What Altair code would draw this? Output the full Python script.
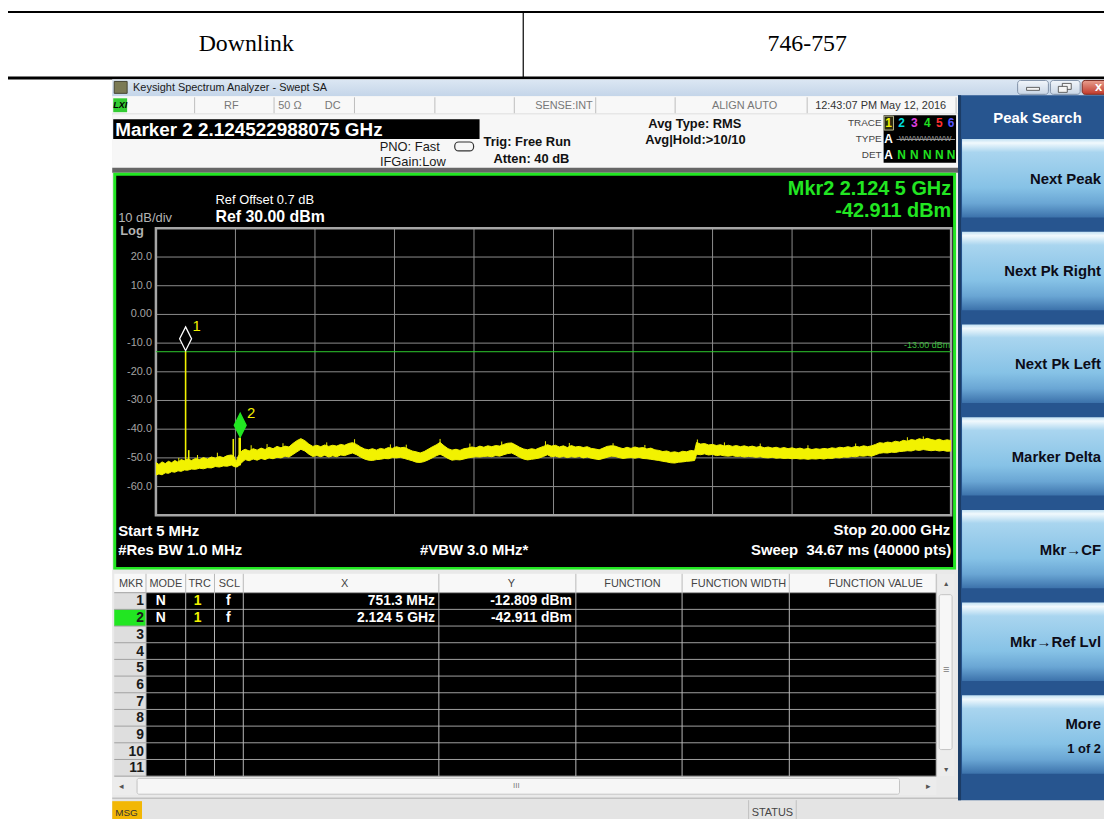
import altair as alt
import pandas as pd

# ---------------- data ----------------
CELL_LEFT = "Downlink"
CELL_RIGHT = "746-757"

F_START_GHZ = 0.005
F_STOP_GHZ = 20.0
REF_LEVEL = 30.0
DB_PER_DIV = 10.0
N_DIV = 10
DISPLAY_LINE_DBM = -13.0

YTICK_VALUES = [20, 10, 0, -10, -20, -30, -40, -50, -60]
YTICK_LABELS = ["20.0", "10.0", "0.00", "-10.0", "-20.0", "-30.0", "-40.0", "-50.0", "-60.0"]

TRACE_F = [0.005, 0.08, 0.16, 0.24, 0.32, 0.40, 0.48, 0.56, 0.64, 0.72, 0.80, 0.90, 1.00, 1.10, 1.20,
           1.30, 1.40, 1.50, 1.60, 1.70, 1.80, 1.90, 1.97, 2.02, 2.07, 2.17, 2.25, 2.35, 2.45, 2.55,
           2.65, 2.75, 2.85, 2.95, 3.05, 3.15, 3.25, 3.35, 3.45, 3.55, 3.65, 3.75, 3.85, 3.95, 4.05,
           4.15, 4.25, 4.35, 4.45, 4.55, 4.65, 4.75, 4.85, 4.95, 5.05, 5.15, 5.25, 5.35, 5.45, 5.55,
           5.65, 5.75, 5.85, 5.95, 6.05, 6.15, 6.25, 6.35, 6.45, 6.55, 6.65, 6.75, 6.85, 6.95, 7.05,
           7.15, 7.25, 7.35, 7.45, 7.55, 7.65, 7.75, 7.85, 7.95, 8.05, 8.15, 8.25, 8.35, 8.45, 8.55,
           8.65, 8.75, 8.85, 8.95, 9.05, 9.15, 9.25, 9.35, 9.45, 9.55, 9.65, 9.75, 9.85, 9.95, 10.05,
           10.15, 10.25, 10.35, 10.45, 10.55, 10.65, 10.75, 10.85, 10.95, 11.05, 11.15, 11.25, 11.35,
           11.45, 11.55, 11.65, 11.75, 11.85, 11.95, 12.05, 12.15, 12.25, 12.35, 12.45, 12.55, 12.65,
           12.75, 12.85, 12.95, 13.05, 13.15, 13.25, 13.35, 13.45, 13.55, 13.60, 13.70, 13.80, 13.90,
           14.00, 14.10, 14.20, 14.30, 14.40, 14.50, 14.60, 14.70, 14.80, 14.90, 15.00, 15.10, 15.20,
           15.30, 15.40, 15.50, 15.60, 15.70, 15.80, 15.90, 16.00, 16.10, 16.20, 16.30, 16.40, 16.50,
           16.60, 16.70, 16.80, 16.90, 17.00, 17.10, 17.20, 17.30, 17.40, 17.50, 17.60, 17.70, 17.80,
           17.90, 18.00, 18.10, 18.20, 18.30, 18.40, 18.50, 18.60, 18.70, 18.80, 18.90, 19.00, 19.10,
           19.20, 19.30, 19.40, 19.50, 19.60, 19.70, 19.80, 19.90, 20.00]
TRACE_HI = [-51.6, -52.3, -51.4, -52.0, -51.2, -51.7, -50.9, -51.5, -50.6, -51.0, -50.4, -50.9, -50.2, -50.6, -49.9,
            -50.4, -49.7, -50.1, -49.5, -49.9, -49.2, -49.0, -49.5, -51.5, -49.5, -47.5, -47.0, -47.6, -46.8, -47.3,
            -46.6, -47.1, -46.3, -46.8, -46.0, -46.5, -45.9, -46.2, -45.0, -44.0, -43.3, -44.0, -45.2, -46.0, -45.6,
            -46.1, -45.5, -46.0, -45.6, -45.9, -45.3, -45.6, -45.0, -44.7, -45.3, -46.2, -46.9, -47.2, -46.8, -47.3,
            -46.7, -47.0, -46.4, -46.7, -46.1, -46.5, -46.3, -47.0, -47.6, -47.9, -48.3, -47.8, -47.0, -46.2, -45.5,
            -44.6, -45.8, -46.8, -47.3, -47.0, -47.4, -46.8, -46.6, -46.2, -46.5, -45.9, -46.3, -45.8, -46.1, -45.7,
            -45.9, -45.3, -44.9, -44.8, -45.5, -46.3, -46.9, -47.2, -46.8, -47.1, -46.5, -46.0, -45.4, -45.9, -45.6,
            -46.2, -45.8, -46.4, -45.7, -46.2, -46.0, -46.4, -46.1, -46.7, -46.9, -47.2, -46.6, -46.0,
            -45.8, -45.9, -46.4, -46.8, -46.3, -46.7, -46.2, -46.6, -46.4, -46.9, -46.6, -47.2, -47.4,
            -47.8, -47.6, -48.1, -47.9, -48.2, -47.7, -47.9, -47.4, -47.6, -44.6, -45.2, -45.0, -45.5,
            -45.3, -45.7, -45.4, -45.9, -45.6, -46.0, -45.7, -46.1, -45.8, -46.2, -45.9, -46.3, -46.0,
            -46.5, -46.2, -46.6, -46.3, -46.7, -46.4, -46.8, -46.5, -46.9, -46.6, -47.0, -46.7, -47.1,
            -46.8, -47.0, -46.7, -46.9, -46.5, -46.7, -46.3, -46.5, -46.1, -46.4, -46.0, -46.2, -45.8,
            -46.1, -45.8, -45.3, -44.7, -44.9, -44.5, -44.7, -44.2, -44.5, -43.9, -44.2, -43.6, -43.9,
            -43.3, -43.7, -43.2, -43.6, -43.9, -43.5, -44.0, -43.7, -44.0]
TRACE_LO = [-56.0, -55.6, -55.9, -55.2, -55.4, -54.8, -55.0, -54.5, -54.7, -54.2, -54.3, -53.9, -54.0, -53.6, -53.8,
            -53.4, -53.5, -53.0, -53.2, -52.8, -52.9, -52.5, -53.0, -53.2, -53.0, -51.5, -50.6, -51.0, -50.4, -50.8,
            -50.2, -50.6, -50.0, -50.3, -49.8, -50.0, -49.4, -49.7, -48.8, -47.9, -47.0, -47.6, -48.7, -49.5, -49.2,
            -49.6, -49.1, -49.7, -49.3, -49.6, -49.0, -49.2, -48.7, -48.3, -48.9, -49.7, -50.4, -50.8, -50.9, -50.6,
            -50.5, -50.2, -50.3, -49.9, -50.0, -49.8, -50.2, -50.6, -51.0, -51.5, -51.6, -51.3, -50.7, -50.0, -49.3,
            -48.7, -49.4, -50.2, -50.8, -50.6, -50.7, -50.4, -50.0, -49.8, -49.6, -49.7, -49.5, -49.4, -49.6, -49.2,
            -49.4, -48.9, -48.5, -48.3, -49.0, -49.8, -50.4, -50.7, -50.5, -50.3, -50.0, -49.5, -48.9, -49.6, -49.4,
            -49.8, -49.5, -49.9, -49.6, -49.8, -49.5, -50.0, -49.7, -50.1, -50.4, -50.6, -50.2, -49.8,
            -49.4, -49.5, -49.9, -50.2, -50.0, -49.9, -50.1, -49.8, -50.2, -50.3, -50.5, -50.7, -50.9,
            -51.2, -51.4, -51.7, -51.8, -51.5, -51.4, -51.2, -51.1, -50.9, -48.7, -48.9, -48.6, -49.0,
            -48.8, -49.2, -49.0, -49.3, -49.4, -49.2, -49.5, -49.4, -49.7, -49.5, -49.6, -49.8, -49.6,
            -49.9, -50.0, -49.8, -50.1, -50.0, -50.2, -50.1, -50.3, -50.2, -50.4, -50.3, -50.5, -50.3,
            -50.4, -50.2, -50.4, -50.1, -50.2, -49.9, -50.0, -49.7, -49.8, -49.5, -49.6, -49.3, -49.4,
            -49.2, -49.4, -48.9, -48.4, -48.2, -48.3, -48.0, -48.1, -47.8, -47.7, -47.5, -47.6, -47.2,
            -47.4, -47.1, -47.3, -47.5, -47.3, -47.6, -47.4, -47.7, -47.6]

# narrow signals standing above the noise floor
SPIKE_F = [0.7513, 0.83, 1.95, 2.10, 2.1245]
SPIKE_HI = [-12.809, -47.3, -43.4, -43.0, -42.911]
SPIKE_LO = [-54.2, -53.8, -52.6, -52.6, -52.6]

# small noise peaks sticking out of the band
NOISE_F = [0.58, 1.05, 1.55, 2.4, 2.8, 3.2, 4.3, 5.0, 5.9, 6.3, 7.15, 7.9, 8.7, 9.8, 10.4, 11.5,
           12.3, 13.62, 14.3, 15.2, 16.4, 17.6, 18.9, 19.3]
NOISE_TOP = [-50.0, -49.0, -48.2, -45.6, -45.2, -44.9, -44.6, -43.5, -45.3, -45.4, -43.4, -45.0,
             -44.3, -44.2, -44.8, -44.9, -45.5, -43.6, -44.6, -45.0, -45.6, -45.0, -42.8, -42.5]

MKR_NUM = [1, 2]
MKR_F = [0.7513, 2.1245]
MKR_DB = [-12.809, -42.911]
MKR_MODE = ["N", "N"]
MKR_TRC = ["1", "1"]
MKR_SCL = ["f", "f"]
MKR_X = ["751.3 MHz", "2.124 5 GHz"]
MKR_Y = ["-12.809 dBm", "-42.911 dBm"]
ACTIVE_MKR = 2
TABLE_ROWS = list(range(1, 12))
TABLE_HEADERS = ["MKR", "MODE", "TRC", "SCL", "X", "Y", "FUNCTION", "FUNCTION WIDTH", "FUNCTION VALUE"]

SOFTKEYS = ["Next Peak", "Next Pk Right", "Next Pk Left", "Marker Delta", "Mkr\u2192CF", "Mkr\u2192Ref Lvl", "More"]
TRACE_IDS = ["1", "2", "3", "4", "5", "6"]

# ---------------- layout / style ----------------
SANS = "Liberation Sans"
SERIF = "Liberation Serif"
O = 8
W, H = 1104, 811
YELLOW = "#f2f200"
GREEN = "#22e622"
GRID = "#8c8c8c"
GX0, GX1, GY0, GY1 = 157, 958, 227, 516

base = alt.Chart(pd.DataFrame({"k": [0]}))
layers = []


def grad(stops):
    return alt.LinearGradient(gradient="linear", x1=0, x2=0, y1=0, y2=1,
                              stops=[alt.GradientStop(color=c, offset=o) for o, c in stops])


def rect(x1, y1, x2, y2, fill=None, stroke=None, sw=1.0, radius=None):
    kw = {}
    if fill is None:
        kw["fill"] = "white"
        kw["fillOpacity"] = 0
    else:
        kw["fill"] = fill
    if stroke is not None:
        kw["stroke"] = stroke
        kw["strokeWidth"] = sw
    if radius is not None:
        kw["cornerRadius"] = radius
    layers.append(base.mark_rect(**kw).encode(
        x=alt.value(x1 - O), x2=alt.value(x2 - O), y=alt.value(y1 - O), y2=alt.value(y2 - O)))


def hline(x1, x2, y, color, sw=1.0):
    layers.append(base.mark_rule(color=color, strokeWidth=sw).encode(
        x=alt.value(x1 - O), x2=alt.value(x2 - O), y=alt.value(y - O)))


def vline(x, y1, y2, color, sw=1.0):
    layers.append(base.mark_rule(color=color, strokeWidth=sw).encode(
        x=alt.value(x - O), y=alt.value(y1 - O), y2=alt.value(y2 - O)))


def text(s, x, y, size=12, color="black", weight="normal", align="left", font=SANS, italic=False):
    kw = dict(text=s, fontSize=size, color=color, fontWeight=weight, align=align,
              baseline="middle", font=font)
    if italic:
        kw["fontStyle"] = "italic"
    layers.append(base.mark_text(**kw).encode(x=alt.value(x - O), y=alt.value(y - O)))


# ---------- document table ----------
rect(8, 8, 1112, 10, fill="black")
vline(527, 9, 76, "black", 1.2)
rect(8, 74, 1112, 77, fill="black")
text(CELL_LEFT, 248, 41, size=24, font=SERIF, align="center")
text(CELL_RIGHT, 813, 41, size=24, font=SERIF, align="center")

# ---------- analyzer window ----------
rect(113, 77, 1112, 827, fill="#ececec")
rect(113, 77, 1112, 94, fill=grad([(0, "#dce7f3"), (1, "#c4d5e9")]))
rect(115, 79, 128, 91, fill="#7a7a55", stroke="#444433")
text("Keysight Spectrum Analyzer - Swept SA", 134, 86, size=11, color="#1a1a1a")
rect(1025, 78, 1056, 92, fill=grad([(0, "#f2f6fb"), (1, "#c9d6e6")]), stroke="#7f8fa6", radius=3)
rect(1034, 85, 1047, 88, fill="#f4f4f4", stroke="#404040", sw=0.8)
rect(1058, 78, 1088, 92, fill=grad([(0, "#f2f6fb"), (1, "#c9d6e6")]), stroke="#7f8fa6", radius=3)
rect(1070, 81, 1079, 87, fill="#f4f4f4", stroke="#404040", sw=0.8)
rect(1066, 84, 1075, 90, fill="#f4f4f4", stroke="#404040", sw=0.8)
rect(1090, 78, 1130, 92, fill=grad([(0, "#e9a08f"), (1, "#c0392b")]), stroke="#7a2a20", radius=3)
text("x", 1103, 84.5, size=13, color="white", weight="bold")

# status row
rect(113, 94, 965, 112, fill="#f8f8f8")
hline(113, 965, 112, "#c8c8c8")
rect(114, 96, 128, 110, fill="#33cc33")
text("LXI", 121, 103, size=9, weight="bold", italic=True, align="center")
for sx in [196, 276, 357, 438, 518, 600, 680, 813, 963]:
    vline(sx, 95, 111, "#bdbdbd")
text("RF", 233, 104, size=11, color="#777777", align="center")
text("50 \u03a9", 292, 104, size=11, color="#777777", align="center")
text("DC", 335, 104, size=11, color="#777777", align="center")
text("SENSE:INT", 597, 104, size=11, color="#777777", align="right")
text("ALIGN AUTO", 750, 104, size=11, color="#777777", align="center")
text("12:43:07 PM May 12, 2016", 887, 104, size=11, color="#333333", align="center")

# settings area
rect(113, 112, 965, 167, fill="#f7f7f7")
rect(114, 117, 483, 137, fill="black")
text("Marker 2 2.124522988075 GHz", 116, 127.5, size=19, color="white", weight="bold")
text("PNO: Fast", 443, 145, size=13, color="#1a1a1a", align="right")
text("IFGain:Low", 449, 160, size=13, color="#1a1a1a", align="right")
rect(458, 140, 477, 149, stroke="#333333", sw=1.2, radius=4)
text("Trig: Free Run", 487, 140, size=13, color="#111111", weight="bold")
text("Atten: 40 dB", 497, 157, size=13, color="#111111", weight="bold")
text("Avg Type: RMS", 653, 122, size=13, color="#111111", weight="bold")
text("Avg|Hold:>10/10", 650, 138.5, size=13, color="#111111", weight="bold")
text("TRACE", 888, 121, size=10, color="#444444", align="right")
text("TYPE", 888, 137, size=10, color="#444444", align="right")
text("DET", 888, 153.5, size=10, color="#444444", align="right")
rect(890, 113, 963, 161, fill="black")
rect(890.5, 114, 900, 128, fill="#2a2a10", stroke="#b8b890")
TRACE_COLORS = [YELLOW, "#00dede", "#e040e0", "#20e020", "#ff3030", "#5555ff"]
TRACE_X = [895, 908, 921, 934, 946, 958]
for tid, tx, tc in zip(TRACE_IDS, TRACE_X, TRACE_COLORS):
    text(tid, tx, 121, size=12, color=tc, weight="bold", align="center")
text("A", 895, 137, size=12, color="white", weight="bold", align="center")
text("WWWWWWW", 932, 137, size=8, color="#9a9a9a", align="center")
hline(903, 962, 137.5, "#9a9a9a")
text("A", 895, 153.5, size=12, color="white", weight="bold", align="center")
for tx in TRACE_X[1:]:
    text("N", tx, 153.5, size=12, color="#20e020", weight="bold", align="center")
rect(113, 166, 965, 171, fill="#666666")

# green framed display
rect(114, 171, 963, 571, fill=GREEN)
rect(117, 174, 960, 568, fill="black")

# ---------- spectrum (through scales) ----------
xs = alt.Scale(domain=[F_START_GHZ, F_STOP_GHZ], range=[GX0 - O, GX1 - O])
ys = alt.Scale(domain=[REF_LEVEL - N_DIV * DB_PER_DIV, REF_LEVEL], range=[GY1 - O, GY0 - O])
X = lambda f: alt.X(f, scale=xs, axis=None)
Y = lambda f: alt.Y(f, scale=ys, axis=None)

grid_f = [F_START_GHZ + i * (F_STOP_GHZ - F_START_GHZ) / N_DIV for i in range(N_DIV + 1)]
grid_db = [REF_LEVEL - i * DB_PER_DIV for i in range(N_DIV + 1)]
layers.append(alt.Chart(pd.DataFrame({"f": grid_f})).mark_rule(color=GRID, strokeWidth=1).encode(
    x=X("f:Q"), y=alt.value(GY0 - O), y2=alt.value(GY1 - O)))
layers.append(alt.Chart(pd.DataFrame({"db": grid_db})).mark_rule(color=GRID, strokeWidth=1).encode(
    y=Y("db:Q"), x=alt.value(GX0 - O), x2=alt.value(GX1 - O)))
rect(GX0, GY0, GX1, GY1, stroke="#a6a6a6", sw=2.5)

layers.append(alt.Chart(pd.DataFrame({"db": YTICK_VALUES, "label": YTICK_LABELS})).mark_text(
    align="right", baseline="middle", font=SANS, fontSize=11, color="#a4a4a4").encode(
    x=alt.value(153 - O), y=Y("db:Q"), text="label:N"))

layers.append(alt.Chart(pd.DataFrame({"f": [F_START_GHZ, F_STOP_GHZ], "db": [DISPLAY_LINE_DBM] * 2}))
              .mark_line(color="#2ecc2e", strokeWidth=1).encode(x=X("f:Q"), y=Y("db:Q")))
layers.append(alt.Chart(pd.DataFrame({"db": [DISPLAY_LINE_DBM], "t": ["-13.00 dBm"]})).mark_text(
    align="right", baseline="middle", font=SANS, fontSize=9, color="#3fbf3f", dy=-7).encode(
    x=alt.value(957 - O), y=Y("db:Q"), text="t:N"))

trace = pd.DataFrame({"f": TRACE_F, "hi": TRACE_HI, "lo": TRACE_LO})
layers.append(alt.Chart(trace).mark_area(color=YELLOW, opacity=1, interpolate="linear").encode(
    x=X("f:Q"), y=Y("hi:Q"), y2="lo:Q"))
layers.append(alt.Chart(trace).mark_line(color=YELLOW, strokeWidth=1).encode(x=X("f:Q"), y=Y("hi:Q")))
layers.append(alt.Chart(trace).mark_line(color=YELLOW, strokeWidth=1).encode(x=X("f:Q"), y=Y("lo:Q")))
layers.append(alt.Chart(pd.DataFrame({"f": NOISE_F, "top": NOISE_TOP})).transform_calculate(
    base="datum.top - 3").mark_rule(color=YELLOW, strokeWidth=1).encode(
    x=X("f:Q"), y=Y("top:Q"), y2="base:Q"))
layers.append(alt.Chart(pd.DataFrame({"f": SPIKE_F, "hi": SPIKE_HI, "lo": SPIKE_LO})).mark_rule(
    color=YELLOW, strokeWidth=1.6).encode(x=X("f:Q"), y=Y("hi:Q"), y2="lo:Q"))

mk = pd.DataFrame({"num": MKR_NUM, "f": MKR_F, "db": MKR_DB, "label": [str(n) for n in MKR_NUM]})
DIAMOND = "M0,-1L0.5,0L0,1L-0.5,0Z"
active = f"datum.num == {ACTIVE_MKR}"
layers.append(alt.Chart(mk).mark_point(shape=DIAMOND, size=576, filled=True, opacity=1,
                                       strokeWidth=1.3, yOffset=-12.5).encode(
    x=X("f:Q"), y=Y("db:Q"),
    fill=alt.condition(active, alt.value(GREEN), alt.value("black")),
    stroke=alt.condition(active, alt.value(GREEN), alt.value("white"))))
layers.append(alt.Chart(mk).mark_text(font=SANS, fontSize=15, color=YELLOW, dx=11, dy=-25).encode(
    x=X("f:Q"), y=Y("db:Q"), text="label:N"))

# display annotations
text("Ref Offset 0.7 dB", 217, 198, size=13, color="white")
text("Ref 30.00 dBm", 217, 216, size=16, color="white", weight="bold")
text("10 dB/div", 119, 217, size=13, color="#b4b4b4")
text("Log", 121, 230, size=13, color="#b4b4b4", weight="bold")
text("Mkr2 2.124 5 GHz", 958, 187, size=20, color=GREEN, weight="bold", align="right")
text("-42.911 dBm", 958, 210, size=20, color=GREEN, weight="bold", align="right")
text("Start 5 MHz", 119, 531.5, size=15, color="white", weight="bold")
text("#Res BW 1.0 MHz", 119, 551.5, size=15, color="white", weight="bold")
text("#VBW 3.0 MHz*", 423, 551.5, size=15, color="white", weight="bold")
text("Stop 20.000 GHz", 957, 531, size=15, color="white", weight="bold", align="right")
text("Sweep\u00a0\u00a034.67 ms (40000 pts)", 958, 551.5, size=15, color="white", weight="bold", align="right")

# ---------- marker table ----------
ROW_TOP, ROW_H = 594, 16.8
ROW_BOT = ROW_TOP + len(TABLE_ROWS) * ROW_H
COLS = [147, 187, 216, 245, 442, 580, 687, 795, 943]
HEAD_X = [132, 167, 201, 231, 347, 515, 637, 744, 882]
rect(113, 571, 965, 800, fill="#e9e9e9")
rect(115, 575, 943, ROW_TOP, fill="#f8f8f8")
rect(147, ROW_TOP, 943, ROW_BOT, fill="black")
for h, hx in zip(TABLE_HEADERS, HEAD_X):
    text(h, hx, 585, size=11, color="#444444", align="center")
for r in TABLE_ROWS:
    y0 = ROW_TOP + (r - 1) * ROW_H
    rect(115, y0, 147, y0 + ROW_H, fill=GREEN if r == ACTIVE_MKR else "#dedede")
    text(str(r), 145, y0 + ROW_H / 2 + 0.5, size=14, color="#1a1a1a", weight="bold", align="right")
for k in range(len(TABLE_ROWS) + 1):
    hline(115, 943, ROW_TOP + k * ROW_H, "#a0a0a0")
for cx in COLS:
    vline(cx, 575, ROW_BOT, "#b8b8b8")
for num, mode, trc, scl, xv, yv in zip(MKR_NUM, MKR_MODE, MKR_TRC, MKR_SCL, MKR_X, MKR_Y):
    yc = ROW_TOP + (num - 0.5) * ROW_H + 0.5
    text(mode, 162, yc, size=14, color="white", weight="bold", align="center")
    text(trc, 199, yc, size=14, color=YELLOW, weight="bold", align="center")
    text(scl, 230, yc, size=14, color="white", weight="bold", align="center")
    text(xv, 438, yc, size=14, color="white", weight="bold", align="right")
    text(yv, 576, yc, size=14, color="white", weight="bold", align="right")
# scroll bars
rect(945, 575, 961, ROW_BOT, fill="#ececec")
rect(946, 596, 959, 752, fill="#f7f7f7", stroke="#c4c4c4", radius=2)
text("\u25b2", 953, 585, size=7, color="#555555", align="center")
text("\u2261", 953, 672, size=11, color="#777777", align="center")
text("\u25bc", 953, 773, size=7, color="#555555", align="center")
rect(113, 780, 943, 798, fill="#ececec")
rect(138, 781, 906, 797, fill="#f6f6f6", stroke="#c4c4c4", radius=2)
text("\u25c2", 122, 789, size=9, color="#555555", align="center")
text("III", 520, 789, size=8, color="#777777", align="center")
text("\u25b8", 935, 789, size=9, color="#555555", align="center")

# status bar
rect(113, 800, 1112, 827, fill="#e4e4e4")
hline(113, 965, 801, "#b0b0b0")
rect(113, 804, 143, 827, fill="#f2b705")
text("MSG", 116, 816, size=10, color="#333333")
vline(754, 803, 827, "#c0c0c0")
vline(802, 803, 827, "#c0c0c0")
text("STATUS", 778, 816, size=11, color="#444444", align="center")

# ---------- softkey panel ----------
rect(965, 93, 1112, 803, fill="#27558f")
rect(965, 93, 968, 803, fill="#1b3c66")
text("Peak Search", 1045, 115.5, size=15, color="white", weight="bold", align="center")
BTN = grad([(0, "#c2e1f3"), (0.05, "#f1f9fd"), (0.17, "#a9d5ef"), (0.62, "#86c2e6"),
            (0.82, "#6aa6d4"), (1, "#3c72ab")])
KEY_RIGHT = 1109
for i, key in enumerate(SOFTKEYS):
    top = 137 + i * 93.4
    rect(969, top, 1112, top + 79, fill=BTN)
    if key == "More":
        text(key, KEY_RIGHT, top + 29, size=15, color="#0c0c18", weight="bold", align="right")
        text("1 of 2", KEY_RIGHT, top + 54, size=13, color="#0c0c18", weight="bold", align="right")
    else:
        text(key, KEY_RIGHT, top + 40, size=15, color="#0c0c18", weight="bold", align="right")

chart = alt.layer(*layers).properties(
    width=W, height=H, padding=0, autosize=alt.AutoSizeParams(type="none")
).configure(background="white").configure_view(strokeWidth=0)

chart.save("out.html", embed_options={"renderer": "svg", "actions": False})
